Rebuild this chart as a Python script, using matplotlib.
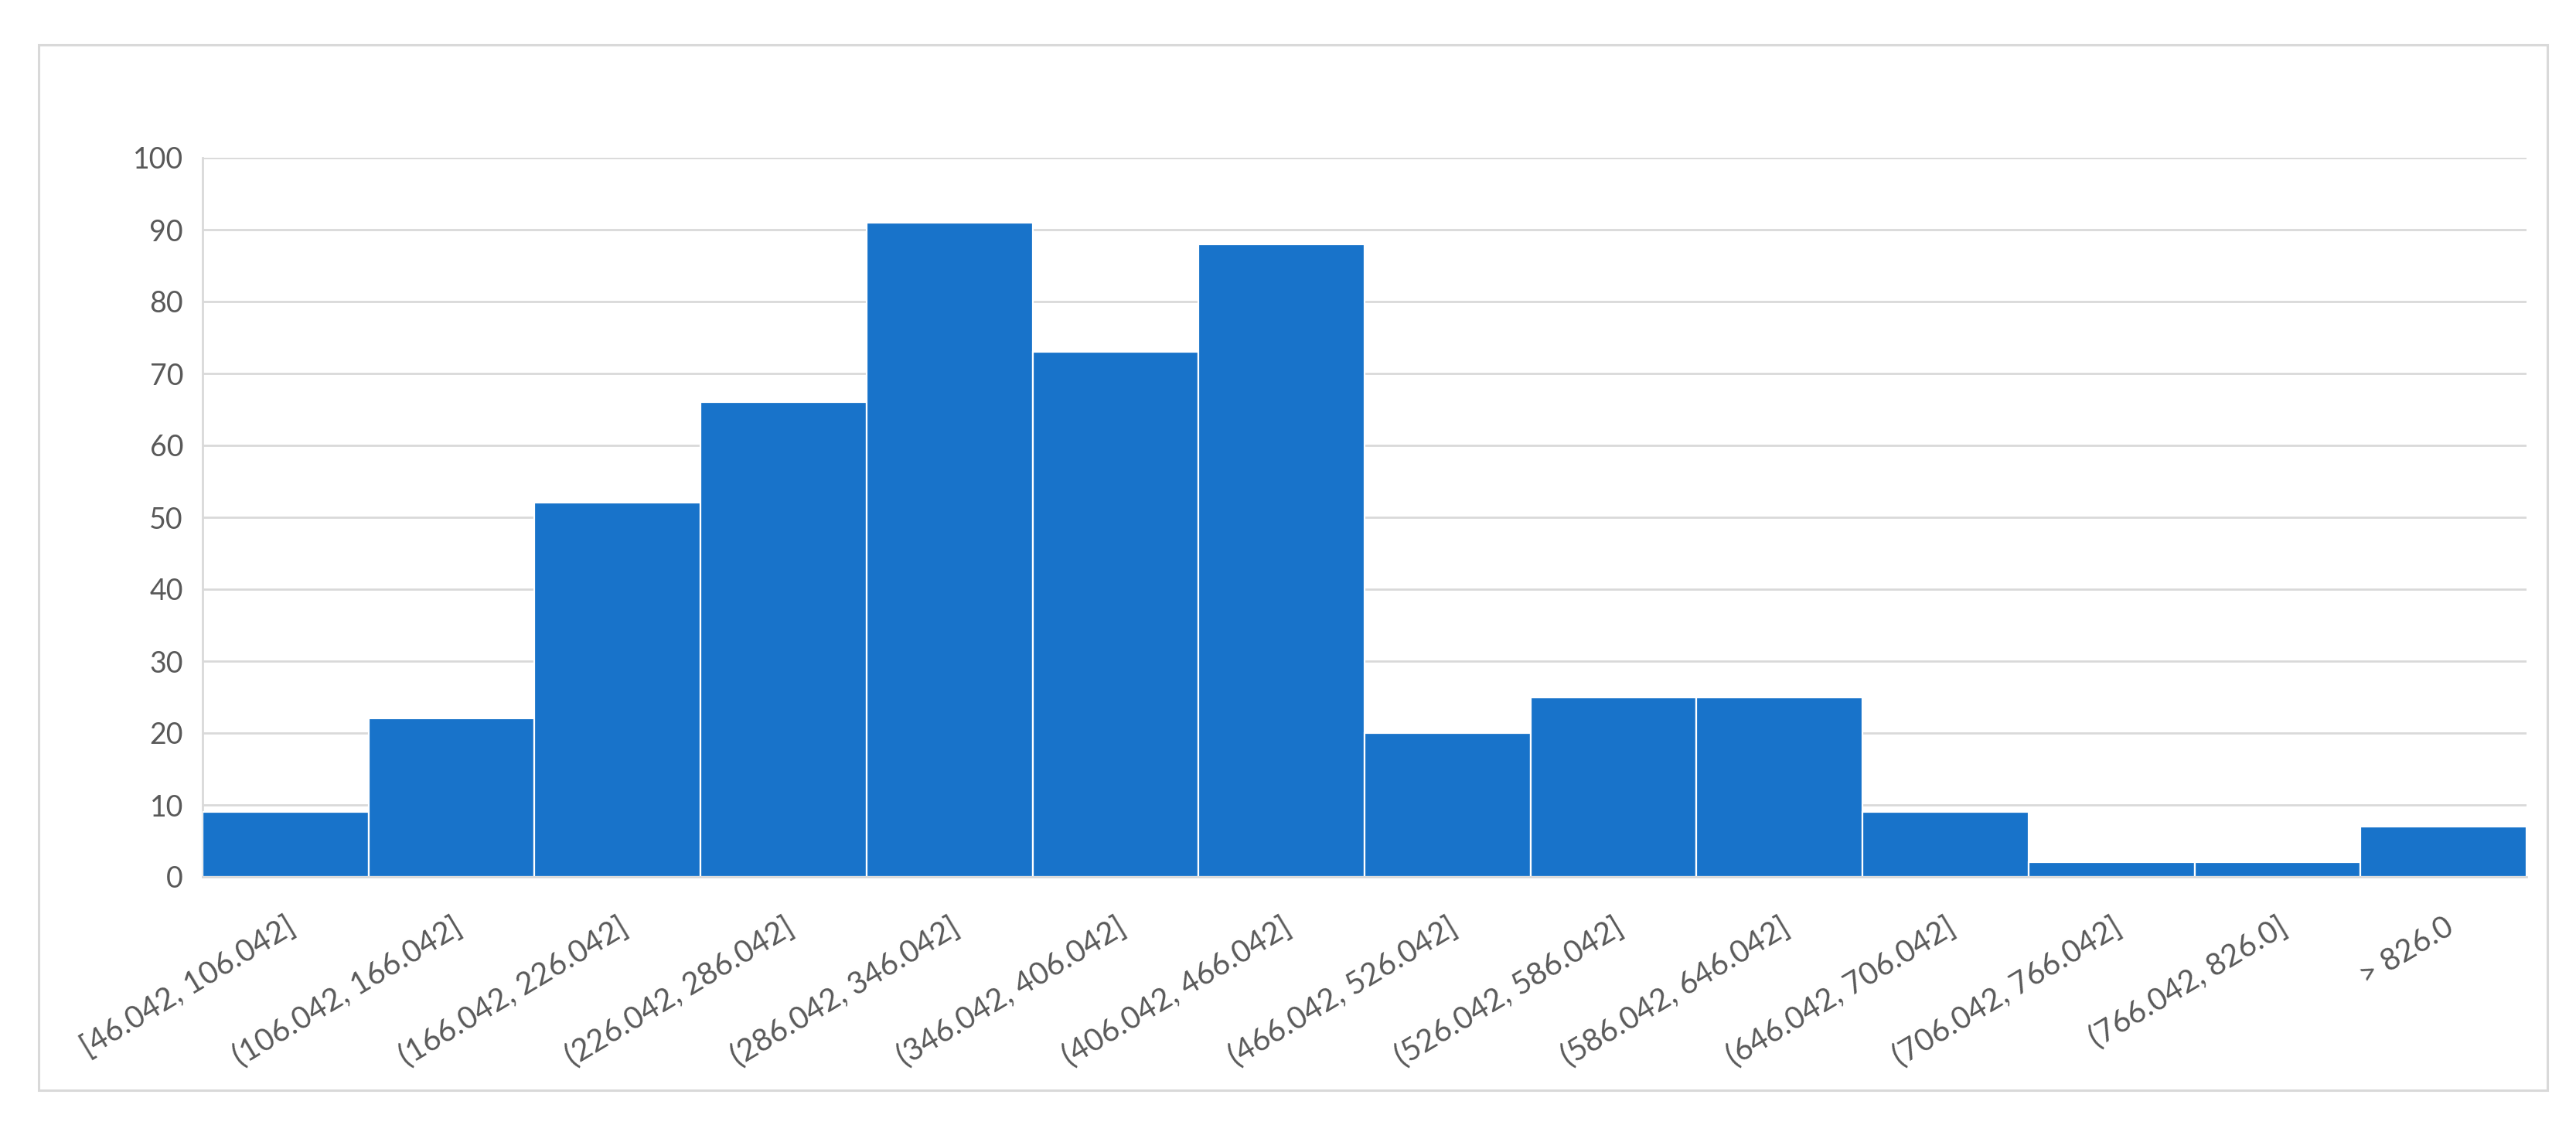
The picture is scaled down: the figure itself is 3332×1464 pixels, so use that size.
import matplotlib
matplotlib.use("Agg")
import matplotlib.pyplot as plt
from matplotlib.patches import Rectangle

categories = ["[46.042, 106.042]", "(106.042, 166.042]", "(166.042, 226.042]",
              "(226.042, 286.042]", "(286.042, 346.042]", "(346.042, 406.042]",
              "(406.042, 466.042]", "(466.042, 526.042]", "(526.042, 586.042]",
              "(586.042, 646.042]", "(646.042, 706.042]", "(706.042, 766.042]",
              "(766.042, 826.0]", "> 826.0"]
counts = [9, 22, 52, 66, 91, 73, 88, 20, 25, 25, 9, 2, 2, 7]
yticks = [0, 10, 20, 30, 40, 50, 60, 70, 80, 90, 100]

plt.rcParams['font.family'] = ['Lato', 'DejaVu Sans']

W, H = 3332, 1464
fig = plt.figure(figsize=(W / 100, H / 100), dpi=100)
fig.patch.set_facecolor('white')

# outer chart frame
fig.patches.append(Rectangle((50 / W, 1 - 1410 / H), (3295 - 50) / W, (1410 - 58) / H,
                             transform=fig.transFigure, fill=False,
                             edgecolor='#d9d9d9', linewidth=2.2))

ax = fig.add_axes([262 / W, 1 - 1134 / H, (3268 - 262) / W, (1134 - 204) / H])
x = list(range(len(categories)))
ax.bar(x, counts, width=1.0, color='#1873ca', edgecolor='white', linewidth=1.6, zorder=3)

ax.set_xlim(-0.5, len(categories) - 0.5)
ax.set_ylim(0, 100)
ax.set_yticks(yticks)
ax.set_yticklabels([str(t) for t in yticks])
ax.yaxis.grid(True, color='#d9d9d9', linewidth=2.0, zorder=0)
ax.set_axisbelow(True)

for s in ['top', 'right']:
    ax.spines[s].set_visible(False)
ax.spines['left'].set_color('#d9d9d9')
ax.spines['left'].set_linewidth(2.0)
ax.spines['bottom'].set_color('#d9d9d9')
ax.spines['bottom'].set_linewidth(2.0)
ax.spines['bottom'].set_zorder(4)

ax.tick_params(axis='y', length=0, pad=18, labelsize=27, labelcolor='#595959')
ax.tick_params(axis='x', length=0, pad=33, labelsize=28.5, labelcolor='#595959')
ax.set_xticks(x)
ax.set_xticklabels(categories, rotation=31, ha='right', va='top', rotation_mode='anchor')

fig.savefig('out.png', dpi=100, facecolor='white')
